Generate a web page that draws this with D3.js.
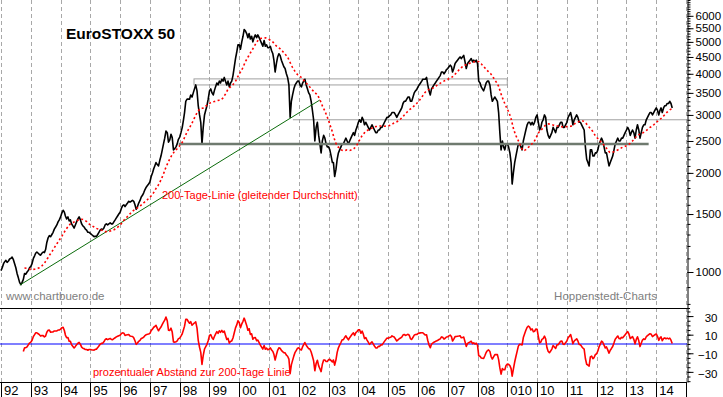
<!DOCTYPE html>
<html><head><meta charset="utf-8">
<script src="https://cdn.jsdelivr.net/npm/d3@7"></script>
<style>
body{margin:0;background:#fff}
svg{display:block}
text{font-family:"Liberation Sans",Arial,Helvetica,sans-serif}
</style>
</head><body>
<svg id="chart" width="723" height="397"></svg>
<script>
// ---------- DATA ----------
const yearLabels = ["92","93","94","95","96","97","98","99","00","01","02","03","04","05","06","07","08","010","10","11","12","13","14"];
const priceTicks = [1000,1500,2000,2500,3000,3500,4000,4500,5000,5500,6000];
const oscTicks = [30,10,-10,-30];

// EuroSTOXX 50, half-monthly (1st and 16th of each month) from Jan 1992
const price = [
1010,1030,1060,1075,1085,1070,1080,1095,1100,1110,1090,1060,1030,990,960,930,915,930,950,990,985,1000,1010,1030,
1040,1060,1100,1120,1140,1150,1140,1130,1125,1140,1150,1145,1170,1230,1270,1290,1280,1300,1320,1350,1370,1390,1420,1440,
1470,1510,1540,1520,1480,1450,1470,1430,1440,1400,1380,1360,1390,1420,1450,1470,1440,1400,1380,1370,1350,1340,1320,1320,
1310,1300,1290,1280,1285,1280,1300,1320,1340,1350,1345,1360,1390,1400,1390,1400,1410,1400,1400,1420,1440,1460,1480,1500,
1520,1560,1590,1600,1580,1600,1620,1640,1630,1640,1650,1640,1600,1550,1580,1620,1650,1690,1710,1740,1780,1810,1830,1850,
1880,1950,2000,2060,2100,2150,2120,2100,2180,2250,2350,2450,2550,2680,2650,2480,2520,2620,2560,2350,2370,2400,2450,2530,
2570,2650,2750,2900,3050,3300,3350,3350,3350,3450,3400,3500,3600,3700,3550,3200,3000,2850,2450,2750,3000,3100,3200,3350,
3550,3600,3500,3450,3550,3650,3750,3700,3800,3750,3850,3800,3900,3800,3700,3800,3650,3750,3800,3950,4200,4450,4650,4900,
4900,4750,5000,5200,5450,5400,5300,5150,5300,5100,5200,5000,5150,5250,5150,5250,5150,5050,4950,4850,5050,4850,4900,4800,
4800,4850,4700,4600,4400,4050,4300,4500,4600,4550,4400,4300,4200,4150,4000,3900,3700,2950,3300,3450,3600,3700,3750,3800,
3800,3700,3650,3750,3800,3850,3700,3600,3500,3450,3300,3100,2900,2500,2750,2850,2600,2450,2300,2500,2600,2550,2450,2400,
2400,2350,2250,2150,2150,1950,2050,2200,2300,2350,2400,2450,2450,2500,2550,2500,2450,2500,2550,2600,2650,2600,2700,2760,
2850,2900,2850,2950,2900,2800,2850,2800,2750,2700,2750,2800,2750,2700,2650,2650,2700,2700,2750,2750,2800,2850,2900,2950,
2950,2980,3000,3050,3050,3050,3000,2950,3000,3050,3100,3150,3250,3300,3300,3350,3400,3400,3300,3300,3400,3500,3550,3580,
3650,3700,3750,3800,3850,3850,3850,3900,3700,3550,3450,3600,3650,3700,3750,3800,3850,3900,3950,4050,4050,4000,4050,4120,
4150,4200,4250,4200,4050,4150,4300,4350,4400,4450,4500,4450,4500,4550,4350,4150,4300,4350,4400,4450,4350,4400,4350,4400,
4300,3800,3750,3650,3600,3550,3650,3750,3800,3800,3700,3450,3300,3350,3400,3350,3300,3050,2650,2350,2500,2400,2350,2450,
2450,2400,2300,2150,1850,2000,2150,2250,2350,2450,2450,2400,2350,2500,2600,2700,2800,2850,2850,2800,2850,2800,2850,2950,
3000,2850,2700,2750,2850,2900,3000,2950,2700,2600,2550,2600,2650,2750,2700,2650,2750,2750,2800,2850,2850,2750,2750,2800,
2850,2950,3000,3050,2950,2800,2900,2950,3000,2950,2850,2850,2800,2750,2700,2400,2200,2150,2100,2350,2350,2250,2250,2300,
2300,2350,2450,2500,2550,2500,2400,2300,2300,2200,2100,2150,2200,2250,2350,2450,2500,2550,2500,2500,2550,2550,2600,2650,
2700,2750,2700,2600,2650,2700,2650,2550,2700,2800,2700,2550,2650,2750,2800,2800,2900,2950,3000,3050,3050,3000,3050,3100,
3150,3100,3000,3100,3150,3050,3150,3200,3200,3250,3250,3300,3250,3150
];

// 200-Tage-Linie, monthly (mid-month) from Oct 1992
const ma200 = [
1028,1026,1021,
1018,1020,1024,1030,1043,1064,1091,1122,1152,1184,1217,1249,
1282,1322,1354,1386,1408,1418,1429,1442,1446,1440,1424,1401,
1385,1370,1357,1349,1341,1330,1326,1328,1334,1343,1357,1378,
1403,1434,1460,1488,1514,1539,1556,1575,1597,1621,1646,1671,
1703,1743,1792,1839,1903,1983,2077,2161,2239,2300,2347,2393,
2442,2513,2610,2702,2783,2881,2989,3081,3135,3149,3188,3233,
3268,3288,3300,3320,3333,3378,3470,3583,3648,3708,3793,3923,
4045,4180,4345,4485,4623,4758,4908,5040,5118,5130,5143,5118,
5058,5000,4900,4830,4768,4683,4590,4495,4333,4185,4068,3980,
3933,3863,3788,3718,3648,3573,3510,3453,3340,3203,3085,2958,
2813,2668,2525,2418,2380,2343,2338,2350,2340,2355,2380,2433,
2516,2593,2646,2686,2711,2736,2761,2768,2776,2778,2773,2775,
2787,2807,2839,2859,2889,2937,2994,3052,3109,3147,3195,3249,
3312,3392,3474,3549,3584,3604,3632,3679,3722,3765,3800,3831,
3864,3899,3946,4026,4101,4171,4236,4261,4291,4325,4345,4360,
4355,4293,4208,4130,4058,3990,3890,3785,3665,3478,3318,3188,
3073,2925,2738,2600,2508,2413,2338,2353,2390,2433,2473,2540,
2640,2693,2740,2795,2818,2810,2798,2783,2775,2770,2758,2763,
2765,2770,2793,2828,2855,2873,2875,2845,2783,2728,2673,2598,
2543,2498,2453,2403,2350,2308,2313,2330,2348,2370,2393,2408,
2428,2458,2500,2548,2600,2623,2640,2670,2708,2748,2778,2820,
2865,2910,2945,3003,3058,3105,3138
];

// prozentualer Abstand zur 200-Tage-Linie, half-monthly from 1 Oct 1992
const abstand = [
-8,-4,-4,-3,-1,1,
2,4,8,10,12,12,11,10,8.5,9,9,7.6,8.5,12.7,14.7,15,12.6,12.8,13,14,14,14,15,15,
16,17.5,17.9,14.5,9.6,6.7,7,2.9,2.8,-0.8,-2.6,-4.3,-2.6,-0.8,0.8,1.7,-0.5,-3.4,-4.6,-5,-6,-6,-6.7,-6,
-6,-6.3,-6.5,-6.6,-5.8,-5.7,-3.9,-2.1,-0.4,0.7,0.7,2.3,4.7,5.6,4.7,5.4,5.9,4.9,4.6,5.7,6.7,7.6,8.3,8.9,
9.4,11.2,12,11.6,9.2,9.6,9.9,10.2,8.6,8.3,8.1,6.6,3.4,-0.4,1,2.9,4,5.8,6.3,7.3,9,10,10.4,10.7,
11.4,14.5,16,18,18.8,20,16.8,14.2,16.5,18.2,21,23.5,25.6,29,25,14.8,14.5,17,12.8,2.2,2,2.3,3.4,5.7,
6.3,8.5,11,15.4,19.2,26.5,26.5,24.2,22.3,24,20.2,21.5,22.6,23.8,17,3.9,-3.5,-9.1,-22,-12.6,-5.4,-2.8,-0.4,3.6,
9.2,10.1,6.8,5,7.8,10.6,13.3,11.4,14.2,12.5,14.7,12.5,13.9,9.5,4.9,6.1,0.9,2.8,3.3,6.5,12,17.3,20.5,24.9,
23,17.4,21.6,24.4,27.8,24.3,20,14.8,16.4,10.3,10.9,5.1,6.6,7,3.5,4.2,1.4,-1.3,-3.4,-5.5,-1.7,-5.7,-4.5,-6.2,
-5.7,-4.1,-6.5,-8,-11.1,-17.3,-11.6,-6.8,-4.1,-4.6,-6.9,-8.2,-9.4,-9.6,-12,-13.2,-16.2,-31.9,-22.5,-17.6,-12.8,-9,-6.8,-4.5,
-4,-5.9,-6.4,-2.9,-0.7,1.6,-1.4,-3.2,-5,-5.4,-8.6,-13.2,-18.1,-28.8,-21,-17.5,-23.5,-26.6,-29.7,-21.9,-17.3,-17.3,-18.9,-18.9,
-16.8,-16.5,-17.9,-19.4,-17.2,-22.8,-17.1,-9,-4.1,-1.3,1.6,4.6,4.7,6.9,8.8,6.4,4.5,6.8,8.6,10.4,11.9,9.2,12.2,13.4,
15.2,15.3,11.5,13.8,10.7,5.8,6.9,4.2,1.9,-0.4,1,2.3,0,-2.2,-4.2,-4.3,-2.6,-2.7,-1,-1,0.9,2.8,4.5,6.3,
6.1,6.9,7.3,8.7,8,7.4,5.3,3.2,4.4,5.6,6.4,7.3,9.6,10.2,9.2,9.8,10.4,9.4,5.5,4.9,7.2,9.5,10.2,10.2,
11.2,11.7,11.9,12,12.1,10.8,9.6,9.9,3.7,-0.9,-4,-0.1,0.9,1.9,2.6,3.3,4,4.8,5.5,7.6,7.1,5.3,6.1,7.5,
7.8,8.7,9.5,7.7,3.2,5.2,7.9,8,8.3,8.5,8.8,6.7,7,7.4,2.4,-2.6,0.6,1.4,2.1,2.9,0.3,1.3,-0.1,0.9,
-1.3,-12.7,-13.3,-15,-15.3,-15.6,-12.4,-9.2,-7.2,-6.4,-8,-13.5,-16.2,-13.9,-11.4,-11.5,-11.4,-16.8,-25.8,-32.4,-26.4,-27.7,-27.8,-23.1,
-21.7,-21.9,-23.3,-26.5,-34.7,-27,-19.4,-13.5,-8,-2.3,-0.4,-0.5,-1.1,6.9,10.9,14.7,18,19.2,18.2,15.1,16.2,13.2,13.7,16.1,
15.8,8,1.2,2.1,4.9,5.8,8.4,5.5,-3.8,-7.7,-9.4,-7.5,-5.5,-1.7,-3.3,-4.8,-1,-0.9,1,2.9,3.1,-0.3,-0.4,1.3,
3.1,6.7,8.4,10.1,6,0.3,3.2,4.3,5.6,3.3,-0.5,-0.8,-2.6,-4.3,-5.6,-15.6,-21.8,-22.7,-23.8,-13.9,-13,-15.8,-14.6,-11.5,
-10.5,-7.6,-2.8,0.1,3,1.9,-1.2,-4.3,-3.2,-6.4,-9.8,-6.8,-4.8,-2.7,1.2,5.2,6.9,8.6,6,5.5,7.1,6.6,8.3,10,
11.7,13.3,10.5,5.8,6.9,8,5,0.1,4.9,7.7,3.4,-2.8,0.7,4.2,5.5,4.9,7.8,8.9,10,11,10.4,8,9,9.9,
10.8,8.2,3.9,6.5,7.6,3.6,5.9,6.6,5.6,6.3,5.5,6.3,4.1,0.4
];

// drawn support / resistance marks [date, level]
const trendLine = [["1992-08-20", 913], ["2002-09-15", 3330]];
const supportLine = [["1997-12-20", 2450], ["2013-09-30", 2450]];
const resistLine = [["2001-10-20", 2900], ["2015-02-01", 2900]];
const rangeBox = [["1998-06-25", 3700], ["2008-12-31", 3860]];

// ---------- HELPERS ----------
const P = d3.timeParse("%Y-%m-%d");
function halfMonthDate(startYear, startMonth, startHalf, i) {
  const k = startHalf + i;
  const m = startMonth + Math.floor(k / 2);
  return new Date(startYear + Math.floor(m / 12), m % 12, (k % 2) ? 16 : 1);
}
const priceData = price.map((v, i) => ({d: halfMonthDate(1992, 0, 0, i), v}));
const maData = ma200.map((v, i) => ({d: new Date(1992, 9 + i, 15), v}));
const oscData = abstand.map((v, i) => ({d: halfMonthDate(1992, 9, 0, i), v}));

// ---------- LAYOUT ----------
const svg = d3.select("#chart");
const plotR = 687, topB = 308, botB = 382, H = 397;
const x = d3.scaleTime().domain([new Date(1992,0,1), new Date(2015,0,1)]).range([1, 686]);
const y = d3.scaleLog().domain([777.5, 6702]).range([topB, 0]);
const yo = d3.scaleLinear().domain([-40.9, 38.7]).range([botB, topB]);
const years = d3.range(1992, 2016).map(yr => new Date(yr, 0, 1));

const defs = svg.append("defs");
defs.append("clipPath").attr("id","clipTop").append("rect").attr("x",0).attr("y",0).attr("width",plotR).attr("height",topB);
defs.append("clipPath").attr("id","clipBot").append("rect").attr("x",0).attr("y",topB).attr("width",plotR).attr("height",botB-topB);

// gridlines
const grid = svg.append("g");
grid.selectAll("line.g").data(years).join("line")
  .attr("x1", d => Math.round(x(d)) + 0.5).attr("x2", d => Math.round(x(d)) + 0.5)
  .attr("y1", 0).attr("y2", botB)
  .attr("stroke", "#a8a8a8").attr("stroke-width", 1).attr("stroke-dasharray", "4,3");

const gTop = svg.append("g").attr("clip-path", "url(#clipTop)");

// range box & level lines
gTop.append("rect")
  .attr("x", x(P(rangeBox[0][0]))).attr("y", y(rangeBox[1][1]))
  .attr("width", x(P(rangeBox[1][0])) - x(P(rangeBox[0][0])))
  .attr("height", y(rangeBox[0][1]) - y(rangeBox[1][1]))
  .attr("fill", "none").attr("stroke", "#a0a0a0").attr("stroke-width", 1);
gTop.append("line")
  .attr("x1", x(P(resistLine[0][0]))).attr("x2", x(P(resistLine[1][0])))
  .attr("y1", y(resistLine[0][1])).attr("y2", y(resistLine[1][1]))
  .attr("stroke", "#a0a0a0").attr("stroke-width", 1);

const lineP = d3.line().x(d => x(d.d)).y(d => y(d.v));
gTop.append("path").datum(priceData).attr("d", lineP)
  .attr("fill", "none").attr("stroke", "#000").attr("stroke-width", 1.6).attr("stroke-linejoin", "round");

gTop.append("line")
  .attr("x1", x(P(supportLine[0][0]))).attr("x2", x(P(supportLine[1][0])))
  .attr("y1", y(supportLine[0][1])).attr("y2", y(supportLine[1][1]))
  .attr("stroke", "#6f7a6f").attr("stroke-width", 2.5);
gTop.append("line")
  .attr("x1", x(P(trendLine[0][0]))).attr("x2", x(P(trendLine[1][0])))
  .attr("y1", y(trendLine[0][1])).attr("y2", y(trendLine[1][1]))
  .attr("stroke", "#0b6b0b").attr("stroke-width", 1);

gTop.append("path").datum(maData).attr("d", d3.line().x(d => x(d.d)).y(d => y(d.v)).curve(d3.curveMonotoneX))
  .attr("fill", "none").attr("stroke", "#ff0000").attr("stroke-width", 1.6).attr("stroke-dasharray", "2,2.5");

// bottom panel
const gBot = svg.append("g").attr("clip-path", "url(#clipBot)");
gBot.append("line").attr("x1", 0).attr("x2", plotR).attr("y1", yo(0)).attr("y2", yo(0))
  .attr("stroke", "#0000ff").attr("stroke-width", 1.2);
gBot.append("path").datum(oscData)
  .attr("d", d3.line().x(d => x(d.d)).y(d => yo(d.v)))
  .attr("fill", "none").attr("stroke", "#ff0000").attr("stroke-width", 1.6).attr("stroke-linejoin", "round");

// frame lines
svg.append("line").attr("x1", 0).attr("x2", plotR + 3).attr("y1", topB + 0.5).attr("y2", topB + 0.5).attr("stroke", "#000");
svg.append("line").attr("x1", 0).attr("x2", plotR).attr("y1", botB + 0.5).attr("y2", botB + 0.5).attr("stroke", "#000");

// right axes
const axP = svg.append("g").attr("transform", `translate(${plotR + 0.5},0)`);
axP.call(d3.axisRight(y).tickValues(d3.range(800, 6800, 100)).tickSize(3).tickSizeOuter(0).tickFormat(""));
const axPM = svg.append("g").attr("transform", `translate(${plotR + 0.5},0)`);
axPM.call(d3.axisRight(y).tickValues(priceTicks).tickSize(6).tickPadding(2).tickSizeOuter(0).tickFormat(d3.format("d")));
axPM.select(".domain").remove();
axPM.selectAll("text").attr("font-size", "11.5px").attr("fill", "#000").attr("font-family", "Liberation Sans, Arial, sans-serif");

const axO = svg.append("g").attr("transform", `translate(${plotR + 0.5},0)`);
axO.call(d3.axisRight(yo).tickValues(d3.range(-40, 40, 5)).tickSize(3).tickSizeOuter(0).tickFormat(""));
const axOM = svg.append("g").attr("transform", `translate(${plotR + 0.5},0)`);
axOM.call(d3.axisRight(yo).tickValues(oscTicks).tickSize(6).tickSizeOuter(0).tickFormat(d3.format("d")));
axOM.select(".domain").remove();
axOM.selectAll("text").attr("text-anchor", "end").attr("x", 30).attr("dy", "0.45em")
  .attr("font-size", "11.5px").attr("fill", "#000").attr("font-family", "Liberation Sans, Arial, sans-serif");

// year label strip
const strip = svg.append("g");
strip.selectAll("line").data(years).join("line")
  .attr("x1", d => Math.round(x(d)) + 0.5).attr("x2", d => Math.round(x(d)) + 0.5)
  .attr("y1", botB).attr("y2", H).attr("stroke", "#000");
strip.selectAll("text").data(yearLabels).join("text")
  .attr("x", (d, i) => x(years[i]) + 3).attr("y", 395)
  .attr("font-size", "13px").attr("fill", "#000").text(d => d);

// texts
svg.append("text").attr("x", 66).attr("y", 39).attr("font-size", "15.5px").attr("font-weight", "bold")
  .attr("fill", "#000").text("EuroSTOXX 50");
svg.append("text").attr("x", 6).attr("y", 300).attr("font-size", "11.5px").attr("fill", "#808080").text("www.chartbuero.de");
svg.append("text").attr("x", 657).attr("y", 300).attr("text-anchor", "end").attr("font-size", "11.5px")
  .attr("fill", "#808080").text("Hoppenstedt-Charts");
svg.append("text").attr("x", 162).attr("y", 199).attr("font-size", "11px").attr("fill", "#ff0000")
  .text("200-Tage-Linie (gleitender Durchschnitt)");
svg.append("text").attr("x", 93).attr("y", 376).attr("font-size", "11px").attr("fill", "#ff0000")
  .text("prozentualer Abstand zur 200-Tage Linie");
</script>
</body></html>
